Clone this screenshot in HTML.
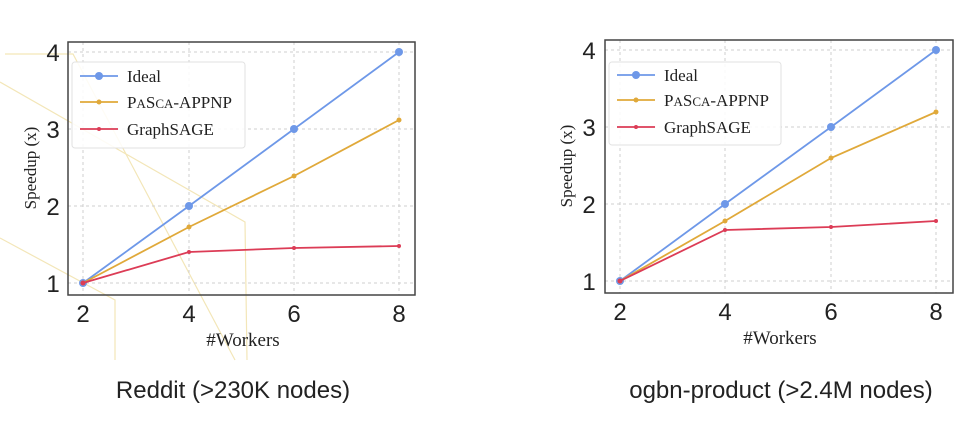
<!DOCTYPE html>
<html><head><meta charset="utf-8"><style>
html,body{margin:0;padding:0;background:#fff;}
svg{display:block;}
</style></head><body>
<svg width="963" height="442" viewBox="0 0 963 442" xmlns="http://www.w3.org/2000/svg">
<g stroke="#f3e6b8" stroke-width="1.2" fill="none">
<polyline points="5,54 73,54 235,360"/>
<polyline points="0,82 245,222 247,360"/>
<polyline points="0,238 115,300 115,360"/>
</g>

<g font-family="'Liberation Serif',serif">
<g stroke="#cfcfcf" stroke-width="1" stroke-dasharray="3,3">
<line x1="83" y1="42" x2="83" y2="295"/><line x1="189" y1="42" x2="189" y2="295"/>
<line x1="294" y1="42" x2="294" y2="295"/><line x1="399" y1="42" x2="399" y2="295"/>
<line x1="68" y1="283" x2="415" y2="283"/><line x1="68" y1="206" x2="415" y2="206"/>
<line x1="68" y1="129" x2="415" y2="129"/><line x1="68" y1="52" x2="415" y2="52"/>
</g>
<rect x="68" y="42" width="347" height="253" fill="none" stroke="#444" stroke-width="1.5"/>
<polyline points="83,283 189,206 294,129 399,52" fill="none" stroke="#6e98e8" stroke-width="1.8"/>
<g fill="#6e98e8"><circle cx="83" cy="283" r="4"/><circle cx="189" cy="206" r="4"/><circle cx="294" cy="129" r="4"/><circle cx="399" cy="52" r="4"/></g>
<polyline points="83,283 189,227 294,176 399,120" fill="none" stroke="#e0a93a" stroke-width="1.8"/>
<g fill="#e0a93a"><circle cx="83" cy="283" r="2.5"/><circle cx="189" cy="227" r="2.5"/><circle cx="294" cy="176" r="2.5"/><circle cx="399" cy="120" r="2.5"/></g>
<polyline points="83,283 189,252 294,248 399,246" fill="none" stroke="#dc3c56" stroke-width="1.8"/>
<g fill="#dc3c56"><circle cx="83" cy="283" r="2.5"/><circle cx="189" cy="252" r="2"/><circle cx="294" cy="248" r="2"/><circle cx="399" cy="246" r="2"/></g>
<rect x="72" y="62" width="173" height="86" rx="3" fill="#fff" fill-opacity="0.85" stroke="#e2e2e2"/>
<line x1="80" y1="76" x2="118" y2="76" stroke="#6e98e8" stroke-width="1.8"/><circle cx="99" cy="76" r="4" fill="#6e98e8"/>
<line x1="80" y1="102" x2="118" y2="102" stroke="#e0a93a" stroke-width="1.8"/><circle cx="99" cy="102" r="2.5" fill="#e0a93a"/>
<line x1="80" y1="129" x2="118" y2="129" stroke="#dc3c56" stroke-width="1.8"/><circle cx="99" cy="129" r="2" fill="#dc3c56"/>
<g font-size="17" fill="#222">
<text x="127" y="82">Ideal</text>
<text x="127" y="108">P<tspan font-size="13">A</tspan>S<tspan font-size="13">CA</tspan>-APPNP</text>
<text x="127" y="135">GraphSAGE</text>
</g>
<text x="243" y="346" font-size="19" text-anchor="middle" fill="#222">#Workers</text>
<text transform="translate(36,168) rotate(-90)" font-size="17" text-anchor="middle" fill="#222">Speedup (x)</text>
</g>
<g font-family="'Liberation Sans',sans-serif" font-size="24" fill="#222">
<text x="53" y="292" text-anchor="middle">1</text><text x="53" y="215" text-anchor="middle">2</text>
<text x="53" y="138" text-anchor="middle">3</text><text x="53" y="61" text-anchor="middle">4</text>
<text x="83" y="322" text-anchor="middle">2</text><text x="189" y="322" text-anchor="middle">4</text>
<text x="294" y="322" text-anchor="middle">6</text><text x="399" y="322" text-anchor="middle">8</text>
<text x="233" y="398" text-anchor="middle">Reddit (&gt;230K nodes)</text>
</g>

<g font-family="'Liberation Serif',serif">
<g stroke="#cfcfcf" stroke-width="1" stroke-dasharray="3,3">
<line x1="620" y1="40" x2="620" y2="293"/><line x1="725" y1="40" x2="725" y2="293"/>
<line x1="831" y1="40" x2="831" y2="293"/><line x1="936" y1="40" x2="936" y2="293"/>
<line x1="605" y1="281" x2="953" y2="281"/><line x1="605" y1="204" x2="953" y2="204"/>
<line x1="605" y1="127" x2="953" y2="127"/><line x1="605" y1="50" x2="953" y2="50"/>
</g>
<rect x="605" y="40" width="348" height="253" fill="none" stroke="#444" stroke-width="1.5"/>
<polyline points="620,281 725,204 831,127 936,50" fill="none" stroke="#6e98e8" stroke-width="1.8"/>
<g fill="#6e98e8"><circle cx="620" cy="281" r="4"/><circle cx="725" cy="204" r="4"/><circle cx="831" cy="127" r="4"/><circle cx="936" cy="50" r="4"/></g>
<polyline points="620,281 725,221 831,158 936,112" fill="none" stroke="#e0a93a" stroke-width="1.8"/>
<g fill="#e0a93a"><circle cx="620" cy="281" r="2.5"/><circle cx="725" cy="221" r="2.5"/><circle cx="831" cy="158" r="2.5"/><circle cx="936" cy="112" r="2.5"/></g>
<polyline points="620,281 725,230 831,227 936,221" fill="none" stroke="#dc3c56" stroke-width="1.8"/>
<g fill="#dc3c56"><circle cx="620" cy="281" r="2.5"/><circle cx="725" cy="230" r="2"/><circle cx="831" cy="227" r="2"/><circle cx="936" cy="221" r="2"/></g>
<rect x="609" y="62" width="172" height="83" rx="3" fill="#fff" fill-opacity="0.85" stroke="#e2e2e2"/>
<line x1="617" y1="75" x2="655" y2="75" stroke="#6e98e8" stroke-width="1.8"/><circle cx="636" cy="75" r="4" fill="#6e98e8"/>
<line x1="617" y1="100" x2="655" y2="100" stroke="#e0a93a" stroke-width="1.8"/><circle cx="636" cy="100" r="2.5" fill="#e0a93a"/>
<line x1="617" y1="127" x2="655" y2="127" stroke="#dc3c56" stroke-width="1.8"/><circle cx="636" cy="127" r="2" fill="#dc3c56"/>
<g font-size="17" fill="#222">
<text x="664" y="81">Ideal</text>
<text x="664" y="106">P<tspan font-size="13">A</tspan>S<tspan font-size="13">CA</tspan>-APPNP</text>
<text x="664" y="133">GraphSAGE</text>
</g>
<text x="780" y="344" font-size="19" text-anchor="middle" fill="#222">#Workers</text>
<text transform="translate(572,166) rotate(-90)" font-size="17" text-anchor="middle" fill="#222">Speedup (x)</text>
</g>
<g font-family="'Liberation Sans',sans-serif" font-size="24" fill="#222">
<text x="589" y="290" text-anchor="middle">1</text><text x="589" y="213" text-anchor="middle">2</text>
<text x="589" y="136" text-anchor="middle">3</text><text x="589" y="59" text-anchor="middle">4</text>
<text x="620" y="320" text-anchor="middle">2</text><text x="725" y="320" text-anchor="middle">4</text>
<text x="831" y="320" text-anchor="middle">6</text><text x="936" y="320" text-anchor="middle">8</text>
<text x="781" y="398" text-anchor="middle">ogbn-product (&gt;2.4M nodes)</text>
</g>
</svg>
</body></html>
